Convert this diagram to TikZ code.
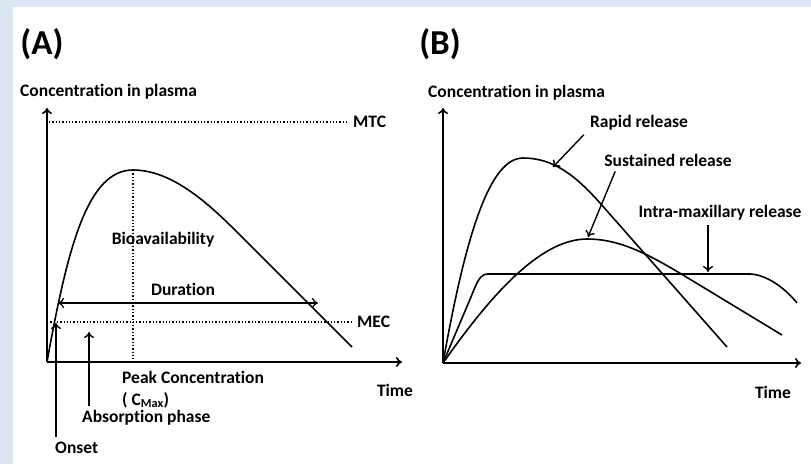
\documentclass[tikz,border=0pt]{standalone}
\usepackage{fontspec}
\setmainfont{Carlito}[Ligatures=NoCommon]
\usetikzlibrary{positioning,arrows.meta}
\definecolor{panelblue}{HTML}{DCE6F2}
\tikzset{
  lbl/.style={font=\bfseries\fontsize{17.5}{20}\selectfont, inner sep=1pt},
  big/.style={font=\bfseries\fontsize{35}{40}\selectfont, inner sep=0pt},
  curve/.style={line width=1.6pt, line join=round},
  axis/.style={line width=1.6pt, -{To[length=6pt,width=10pt]}},
  level/.style={line width=1.3pt, dotted},
  pointer/.style={line width=1.4pt, -{To[length=6pt,width=10pt]}},
}
\begin{document}
\begin{tikzpicture}[x=1pt,y=-1pt]
  \useasboundingbox (0,0) rectangle (811,464);
  \fill[panelblue] (0,0) rectangle (811,464);
  \fill[white] (13,7) rectangle (811,464);

  % (A) single dose
  \node[big] (titleA) at (42,44) {(A)};
  \node[lbl,anchor=west] (ylabA) at (19,92) {Concentration in plasma};
  \coordinate (oA) at (47,362);
  \draw[axis] (oA) -- (47,108);
  \draw[axis] (oA) -- (402,362);
  \node[lbl] (timeA) at (395,390) {Time};

  \node[lbl,anchor=west,inner sep=5pt] (mtc) at (348,122) {MTC};
  \draw[level] (49,122) -- (mtc);
  \node[lbl,anchor=west,inner sep=5pt] (mec) at (352,322) {MEC};
  \draw[level] (47,322) -- (mec);

  \coordinate (peakA) at (133,170);
  \draw[curve] (oA) .. controls (68,245) and (88,170) .. (peakA)
    .. controls (173,170) and (210,205) .. (240,235) -- (352,347);
  \draw[level] (peakA) -- (peakA |- oA);

  \node[lbl] (bioav) at (163,240) {Bioavailability};
  \node[lbl] (dur) at (183,289) {Duration};
  \coordinate (durL) at (58,303);
  \coordinate (durR) at (318,303);
  \draw[line width=1.3pt,{To[length=6pt,width=10pt]}-{To[length=6pt,width=10pt]}] (durL) -- (durR);

  \node[lbl,anchor=west] (peak) at (121,377) {Peak Concentration};
  \node[lbl,anchor=west] (cmax) at (121,400) {( C\textsubscript{Max})};
  \node[lbl,anchor=west] (absorb) at (81,418) {Absorption phase};
  \node[lbl,anchor=west] (onset) at (54,448) {Onset};
  \coordinate (abstip) at (89,332);
  \coordinate (onsettip) at (56,323);
  \draw[pointer] (absorb.north -| abstip) ++(0,-3) -- (abstip);
  \draw[pointer] (onset.north -| onsettip) ++(0,-4) -- (onsettip);

  % (B) release profiles
  \node[big] (titleB) at (440,44) {(B)};
  \node[lbl,anchor=west] (ylabB) at (427,93) {Concentration in plasma};
  \coordinate (oB) at (443,363);
  \draw[axis] (oB) -- (443,108);
  \draw[axis] (oB) -- (801,363);
  \node[lbl] (timeB) at (773,392) {Time};

  \draw[curve] (oB) .. controls (466,233) and (490,158) .. (523,158)
    .. controls (553,158) and (575,175) .. (600,203) -- (727,347);
  \draw[curve] (oB) .. controls (490,296) and (540,239) .. (587,239)
    .. controls (617,239) and (643,251) .. (683,275) -- (782,335);
  \draw[curve] (oB) -- (471,297) .. controls (477,282) and (480,274) .. (488,274)
    -- (747,274) .. controls (765,273) and (785,288) .. (797,303);

  \node[lbl] (rapid) at (639,123) {Rapid release};
  \node[lbl] (sust) at (668,160) {Sustained release};
  \node[lbl] (intra) at (720,213) {Intra-maxillary release};
  \coordinate (rapidtip) at (553,167);
  \coordinate (susttip) at (588,237);
  \coordinate (intratip) at (708,272);
  \draw[pointer] ([xshift=-5pt,yshift=-3pt]rapid.south west) -- (rapidtip);
  \draw[pointer] ([xshift=12pt,yshift=-4pt]sust.south west) -- (susttip);
  \draw[pointer] (intra.south -| intratip) ++(0,3) -- (intratip);
\end{tikzpicture}
\end{document}
